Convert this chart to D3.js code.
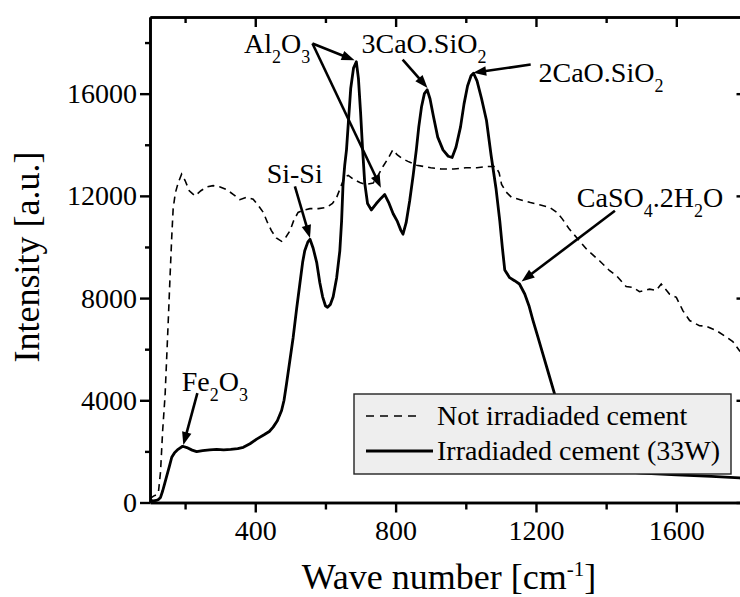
<!DOCTYPE html>
<html>
<head>
<meta charset="utf-8">
<script src="https://cdn.jsdelivr.net/npm/d3@7"></script>
<style>
  body { margin: 0; background: #fff; }
  svg { display: block; }
</style>
</head>
<body>
<svg id="chart" width="740" height="597"></svg>
<script>
// Raman spectra of cement: wave number (cm^-1) and intensity (a.u.)
const notIrrWave = [100,110,118,124,130,136,143,148,152,157,162,166,172,180,190,200,212,228,245,262,280,300,318,338,356,375,394,410,423,435,446,460,475,488,499,510,522,540,556,580,603,620,632,645,655,665,680,698,715,736,750,764,780,792,805,820,835,860,880,900,930,966,1000,1032,1060,1085,1095,1102,1115,1130,1155,1184,1210,1239,1260,1275,1295,1320,1345,1381,1410,1429,1457,1476,1495,1524,1543,1557,1581,1600,1619,1638,1666,1685,1714,1740,1761,1780,1800];
const notIrrInt  = [150,250,300,400,1200,2800,4200,5800,7100,8800,10400,11500,12100,12500,12850,12600,12200,12000,12200,12350,12400,12350,12250,12050,11850,11950,11870,11600,11350,10950,10640,10350,10220,10400,10640,11050,11350,11450,11500,11500,11550,11700,11940,12400,12750,12800,12650,12520,12450,12500,12800,13150,13500,13800,13600,13450,13350,13200,13150,13100,13050,13050,13100,13100,13150,13150,12900,12450,12150,11950,11850,11740,11650,11550,11350,11100,10700,10300,9900,9460,9070,8880,8450,8420,8250,8350,8300,8550,8150,8030,7500,7120,6920,6900,6730,6500,6300,5940,5700];

const irrWave = [100,110,118,124,130,136,142,147,155,162,170,180,193,205,220,233,250,270,290,310,330,350,366,385,404,425,440,451,463,475,482,489,498,508,518,527,535,541,550,556,565,575,584,592,600,606,614,622,632,641,646,650,655,660,666,672,680,688,694,700,706,712,720,731,745,758,769,780,793,805,815,821,830,840,850,859,866,874,882,890,898,908,920,935,950,961,972,985,995,1005,1015,1022,1032,1045,1059,1072,1086,1097,1104,1111,1125,1139,1153,1168,1180,1191,1205,1220,1237,1253,1275,1300,1330,1370,1420,1500,1600,1700,1780,1800];
const irrInt  = [80,60,80,120,200,450,750,1000,1400,1770,1950,2080,2200,2150,2050,1990,2030,2060,2080,2060,2080,2110,2160,2300,2480,2650,2780,2950,3200,3600,4000,4640,5500,6460,7600,8550,9400,9850,10200,10300,9950,9400,8600,8050,7700,7640,7750,8050,8800,9850,11000,12400,13200,13800,15000,16200,17000,17250,16600,15300,13800,12500,11700,11450,11700,11900,12050,11750,11300,11000,10650,10500,10950,11800,12800,13800,14700,15500,16000,16150,15800,15100,14300,13800,13550,13500,13900,14700,15600,16300,16700,16800,16500,15800,14950,13600,12300,11000,10000,9100,8800,8680,8550,8160,7700,7150,6500,5800,5000,4250,3400,2600,1900,1450,1250,1150,1080,1020,960,940];

const seriesNames = ["Not irradiaded cement", "Irradiaded cement (33W)"];

const xMajorTicks = [400, 800, 1200, 1600];
const xMinorTicks = [200, 600, 1000, 1400, 1800];
const yMajorTicks = [0, 4000, 8000, 12000, 16000];
const yMinorTicks = [2000, 6000, 10000, 14000, 18000];

// Band assignments: label pieces ([text, isSubscript]), arrow tail and heads in data units
const bandLabels = [
  { parts: [["Fe",0],["2",1],["O",0],["3",1]], tx: 181.7, ty: 390.7, from: [235, 4278], to: [[195, 2253]] },
  { parts: [["Si-Si",0]], tx: 266.7, ty: 183.3, from: [513, 12372], to: [[556, 10350]] },
  { parts: [["Al",0],["2",1],["O",0],["3",1]], tx: 244, ty: 53.3, from: [563, 17962], to: [[683, 17308],[758, 12320]] },
  { parts: [["3CaO.SiO",0],["2",1]], tx: 361.5, ty: 53.3, from: [820, 17335], to: [[891, 16226]] },
  { parts: [["2CaO.SiO",0],["2",1]], tx: 538.5, ty: 81.7, from: [1185, 17139], to: [[1021, 16814]] },
  { parts: [["CaSO",0],["4",1],[".2H",0],["2",1],["O",0]], tx: 576.8, ty: 206.7, from: [1425, 11420], to: [[1159, 8650]] }
];

const FONT = "'Liberation Serif', 'Times New Roman', Times, 'Nimbus Roman', 'DejaVu Serif', serif";

const svg = d3.select("#chart").attr("font-family", FONT);
const plotLeft = 150, plotRight = 746.5, plotTop = 17, plotBottom = 502.5;

const x = d3.scaleLinear().domain([100, 1800]).range([plotLeft, plotRight]);
const y = d3.scaleLinear().domain([0, 19000]).range([plotBottom, plotTop]);

svg.append("defs").append("clipPath").attr("id", "plot")
  .append("rect").attr("x", plotLeft).attr("y", plotTop)
  .attr("width", plotRight - plotLeft).attr("height", plotBottom - plotTop);

// Spectra
const line = d3.line().x(d => x(d[0])).y(d => y(d[1]));
const plot = svg.append("g").attr("clip-path", "url(#plot)");

plot.append("path")
  .datum(d3.zip(notIrrWave, notIrrInt))
  .attr("d", line)
  .attr("fill", "none").attr("stroke", "#000")
  .attr("stroke-width", 1.6).attr("stroke-dasharray", "7,5");

plot.append("path")
  .datum(d3.zip(irrWave, irrInt))
  .attr("d", line)
  .attr("fill", "none").attr("stroke", "#000")
  .attr("stroke-width", 2.8).attr("stroke-linejoin", "round");

// Axes (ticks out on bottom/left, in on top/right)
function styleAxis(g) {
  g.attr("font-family", FONT).attr("font-size", 28);
  g.selectAll("path.domain").attr("stroke", "#000").attr("stroke-width", 2.6);
  g.selectAll(".tick line").attr("stroke", "#000").attr("stroke-width", 2.4);
  g.selectAll(".tick text").attr("fill", "#000").attr("font-family", FONT).attr("font-size", 28);
}
const noLabel = () => "";

svg.append("g").attr("transform", `translate(0,${plotBottom})`)
  .call(d3.axisBottom(x).tickValues(xMinorTicks).tickSize(7).tickSizeOuter(0).tickFormat(noLabel))
  .call(styleAxis);
svg.append("g").attr("transform", `translate(0,${plotBottom})`)
  .call(d3.axisBottom(x).tickValues(xMajorTicks).tickSize(10).tickPadding(8).tickSizeOuter(0).tickFormat(d3.format("d")))
  .call(styleAxis);

svg.append("g").attr("transform", `translate(0,${plotTop})`)
  .call(d3.axisTop(x).tickValues(xMinorTicks).tickSize(-6).tickSizeOuter(0).tickFormat(noLabel))
  .call(styleAxis);
svg.append("g").attr("transform", `translate(0,${plotTop})`)
  .call(d3.axisTop(x).tickValues(xMajorTicks).tickSize(-10).tickSizeOuter(0).tickFormat(noLabel))
  .call(styleAxis);

svg.append("g").attr("transform", `translate(${plotLeft},0)`)
  .call(d3.axisLeft(y).tickValues(yMinorTicks).tickSize(5).tickSizeOuter(0).tickFormat(noLabel))
  .call(styleAxis);
svg.append("g").attr("transform", `translate(${plotLeft},0)`)
  .call(d3.axisLeft(y).tickValues(yMajorTicks).tickSize(10).tickPadding(3).tickSizeOuter(0).tickFormat(d3.format("d")))
  .call(styleAxis);

svg.append("g").attr("transform", `translate(${plotRight},0)`)
  .call(d3.axisRight(y).tickValues(yMinorTicks).tickSize(-5).tickSizeOuter(0).tickFormat(noLabel))
  .call(styleAxis);
svg.append("g").attr("transform", `translate(${plotRight},0)`)
  .call(d3.axisRight(y).tickValues(yMajorTicks).tickSize(-10).tickSizeOuter(0).tickFormat(noLabel))
  .call(styleAxis);

// Axis titles
svg.append("text")
  .attr("transform", "translate(39,257) rotate(-90)")
  .attr("text-anchor", "middle").attr("font-size", 36)
  .text("Intensity [a.u.]");

const xt = svg.append("text").attr("x", 449).attr("y", 589)
  .attr("text-anchor", "middle").attr("font-size", 36);
xt.append("tspan").text("Wave number [cm");
xt.append("tspan").attr("dy", -13).attr("font-size", 21).text("-1");
xt.append("tspan").attr("dy", 13).text("]");

// Band labels with arrows
function richText(g, tx, ty, parts) {
  const t = g.append("text").attr("x", tx).attr("y", ty).attr("font-size", 28);
  let shifted = false;
  parts.forEach(([s, sub]) => {
    const sp = t.append("tspan").text(s);
    if (sub && !shifted) { sp.attr("dy", 10).attr("font-size", 18); shifted = true; }
    else if (sub) { sp.attr("font-size", 18); }
    else if (!sub && shifted) { sp.attr("dy", -10); shifted = false; }
  });
}

function arrow(g, p0, p1) {
  const dx = p1[0] - p0[0], dy = p1[1] - p0[1];
  const len = Math.hypot(dx, dy), ux = dx / len, uy = dy / len;
  const hl = 13, hw = 4.8;
  const bx = p1[0] - ux * hl, by = p1[1] - uy * hl;
  g.append("line").attr("x1", p0[0]).attr("y1", p0[1]).attr("x2", bx + ux * 2).attr("y2", by + uy * 2)
    .attr("stroke", "#000").attr("stroke-width", 2.6);
  g.append("path")
    .attr("d", `M${p1[0]},${p1[1]}L${bx - uy * hw},${by + ux * hw}L${bx + uy * hw},${by - ux * hw}Z`)
    .attr("fill", "#000");
}

const ann = svg.append("g");
bandLabels.forEach(b => {
  richText(ann, b.tx, b.ty, b.parts);
  const p0 = [x(b.from[0]), y(b.from[1])];
  b.to.forEach(t => arrow(ann, p0, [x(t[0]), y(t[1])]));
});

// Legend
const lg = svg.append("g");
lg.append("rect").attr("x", 354).attr("y", 394).attr("width", 377).attr("height", 80)
  .attr("fill", "#eeeeee").attr("stroke", "#222").attr("stroke-width", 1.4);
lg.append("line").attr("x1", 366).attr("x2", 422).attr("y1", 416).attr("y2", 416)
  .attr("stroke", "#000").attr("stroke-width", 1.6).attr("stroke-dasharray", "8,6");
lg.append("line").attr("x1", 366).attr("x2", 433).attr("y1", 451).attr("y2", 451)
  .attr("stroke", "#000").attr("stroke-width", 3);
lg.append("text").attr("x", 437).attr("y", 425).attr("font-size", 28).text(seriesNames[0]);
lg.append("text").attr("x", 437).attr("y", 460).attr("font-size", 28).text(seriesNames[1]);
</script>
</body>
</html>
